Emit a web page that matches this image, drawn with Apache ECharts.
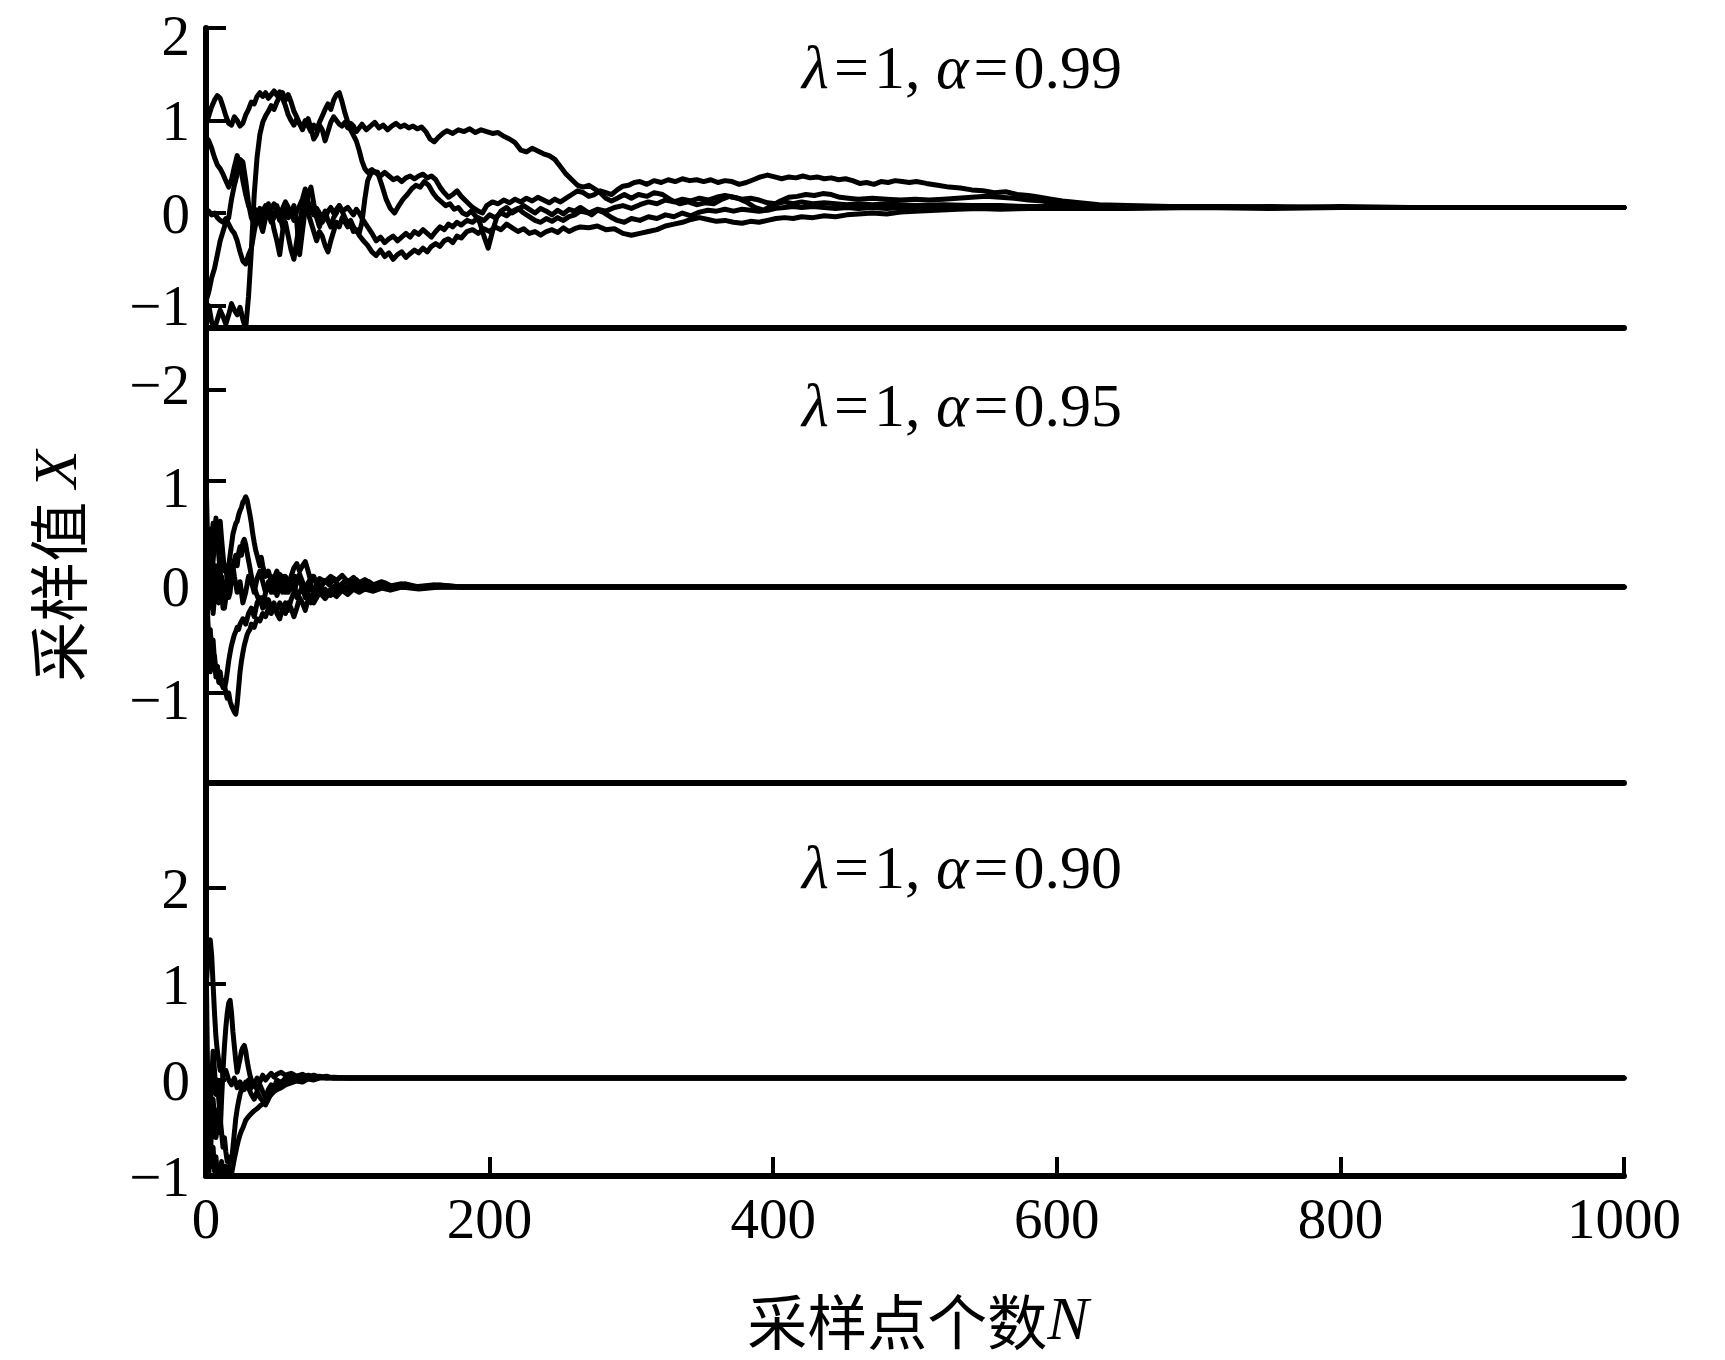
<!DOCTYPE html>
<html>
<head>
<meta charset="utf-8">
<title>采样值收敛曲线</title>
<script src="https://cdn.jsdelivr.net/npm/echarts@6/dist/echarts.min.js"></script>
<style>
  html, body { margin: 0; padding: 0; background: #fff; }
  #chart { width: 1725px; height: 1360px; }
</style>
</head>
<body>
<div id="chart"></div>
<script>
// 横轴刻度
const xTicks = [0, 200, 400, 600, 800, 1000];

// 纵轴刻度和标注（三个子图各一套）
const yTicks99 = [-1, 0, 1, 2];
const yLabels99 = ['−1', '0', '1', '2'];
const yTicks95 = [-1.85, -1, 0, 1, 1.86];
const yLabels95 = ['−2', '−1', '0', '1', '−2'];
const yTicks90 = [-1, 0, 1, 2];
const yLabels90 = ['−1', '0', '1', '2'];

// 纵轴范围
const yRange99 = [-1.243, 2];
const yRange95 = [-1.849, 2.443];
const yRange90 = [-1, 3.094];

const alphas = ['0.99', '0.95', '0.90'];

// λ=1, α=0.99 的五条采样链 [N, X]
const chain99a = [[0,0.95],[2,1.05],[4,1.15],[6,1.22],[8,1.27],[10,1.24],[12,1.15],[14,1.05],[16,0.97],[18,0.95],[20,1.04],[22,1.0],[24,0.94],[26,0.97],[28,1.06],[30,1.12],[32,1.2],[34,1.18],[36,1.26],[38,1.3],[40,1.26],[42,1.3],[44,1.24],[46,1.28],[48,1.32],[50,1.27],[52,1.31],[54,1.24],[56,1.16],[58,1.06],[60,1.0],[62,0.95],[64,1.02],[66,0.97],[68,0.9],[70,0.98],[72,1.02],[74,0.92],[76,0.8],[78,0.85],[80,0.95],[82,0.9],[84,0.78],[86,0.88],[88,0.98],[90,1.04],[92,1.0],[94,0.96],[96,0.94],[98,0.98],[100,0.92],[102,0.97],[104,0.94],[106,0.88],[108,0.92],[110,0.96],[113,0.9],[116,0.94],[119,0.98],[122,0.92],[125,0.95],[128,0.9],[131,0.94],[134,0.97],[137,0.93],[140,0.95],[143,0.92],[146,0.94],[149,0.91],[152,0.93],[155,0.88],[158,0.8],[161,0.77],[164,0.82],[167,0.86],[170,0.89],[174,0.86],[178,0.9],[182,0.88],[186,0.91],[190,0.87],[194,0.9],[198,0.88],[202,0.86],[206,0.87],[210,0.83],[214,0.8],[218,0.76],[222,0.68],[226,0.66],[230,0.7],[234,0.67],[238,0.64],[242,0.62],[246,0.58],[250,0.5],[254,0.42],[258,0.36],[262,0.3],[266,0.28],[270,0.3],[274,0.26],[278,0.22],[282,0.16],[286,0.13],[290,0.16],[295,0.2],[300,0.16],[305,0.2],[311,0.18],[316,0.22],[322,0.2],[328,0.14],[334,0.1],[340,0.12],[346,0.09],[352,0.11],[358,0.1],[364,0.15],[369,0.18],[375,0.16],[381,0.12],[387,0.06],[393,0.03],[399,0.08],[405,0.13],[411,0.17],[417,0.18],[423,0.2],[429,0.19],[435,0.21],[441,0.2],[447,0.17],[453,0.16],[460,0.15],[470,0.16],[480,0.15],[490,0.14],[500,0.15],[510,0.14],[520,0.15],[530,0.16],[540,0.17],[550,0.18],[560,0.17],[570,0.16],[580,0.14],[590,0.13],[600,0.1],[620,0.08],[650,0.07],[700,0.07],[750,0.06],[800,0.06],[850,0.06],[900,0.06],[950,0.06],[1000,0.06]];
const chain99b = [[0,-1.1],[2,-1.0],[4,-1.18],[6,-1.25],[8,-1.15],[10,-1.05],[12,-1.12],[14,-1.2],[16,-1.1],[18,-0.98],[20,-1.05],[22,-1.1],[24,-1.02],[26,-1.15],[28,-1.25],[30,-0.9],[32,-0.4],[34,0.2],[36,0.6],[38,0.85],[40,0.98],[42,1.05],[44,1.1],[46,1.16],[48,1.12],[50,1.2],[52,1.26],[54,1.3],[56,1.22],[58,1.28],[60,1.2],[62,1.1],[64,1.04],[66,0.96],[68,0.92],[70,1.0],[72,0.94],[74,0.88],[76,0.95],[78,0.9],[80,0.98],[82,1.05],[84,1.12],[86,1.18],[88,1.12],[90,1.22],[92,1.28],[94,1.3],[96,1.2],[98,1.08],[100,0.98],[102,0.9],[104,0.84],[106,0.78],[108,0.68],[110,0.56],[112,0.48],[114,0.44],[117,0.47],[120,0.43],[123,0.4],[126,0.44],[129,0.4],[132,0.36],[135,0.38],[138,0.34],[141,0.38],[144,0.4],[147,0.37],[150,0.4],[153,0.42],[156,0.38],[159,0.4],[162,0.36],[165,0.28],[168,0.22],[171,0.17],[174,0.2],[177,0.24],[180,0.18],[184,0.12],[188,0.06],[192,0.02],[195,0.0],[198,0.08],[202,0.12],[206,0.1],[210,0.14],[214,0.11],[218,0.15],[222,0.12],[226,0.16],[230,0.13],[234,0.17],[238,0.14],[242,0.11],[246,0.15],[250,0.12],[254,0.16],[258,0.2],[262,0.24],[266,0.22],[270,0.18],[274,0.2],[278,0.24],[282,0.22],[286,0.2],[290,0.25],[294,0.29],[298,0.3],[302,0.33],[306,0.34],[311,0.31],[316,0.35],[321,0.33],[326,0.36],[331,0.34],[336,0.37],[341,0.35],[346,0.36],[351,0.34],[356,0.36],[361,0.33],[366,0.35],[371,0.34],[376,0.31],[381,0.33],[386,0.36],[391,0.39],[396,0.41],[401,0.39],[406,0.37],[411,0.39],[416,0.38],[421,0.4],[426,0.38],[431,0.39],[436,0.37],[441,0.38],[446,0.36],[451,0.37],[456,0.35],[461,0.32],[466,0.33],[471,0.31],[476,0.34],[481,0.33],[486,0.35],[491,0.34],[496,0.33],[501,0.34],[508,0.32],[516,0.3],[524,0.28],[532,0.27],[540,0.25],[548,0.24],[556,0.22],[564,0.23],[572,0.2],[580,0.19],[588,0.17],[596,0.15],[604,0.13],[616,0.11],[630,0.09],[650,0.08],[680,0.07],[720,0.07],[760,0.06],[800,0.07],[850,0.06],[900,0.06],[950,0.06],[1000,0.06]];
const chain99c = [[0,-0.95],[2,-0.85],[4,-0.7],[6,-0.6],[8,-0.45],[10,-0.3],[12,-0.2],[14,-0.1],[16,-0.05],[18,0.15],[20,0.3],[22,0.42],[24,0.58],[26,0.55],[28,0.35],[30,0.1],[32,-0.05],[34,-0.12],[36,0.0],[38,0.05],[40,-0.1],[42,-0.05],[44,0.1],[46,-0.02],[48,-0.18],[50,-0.3],[52,-0.45],[54,-0.2],[56,0.05],[58,-0.05],[60,0.0],[62,0.08],[64,-0.1],[66,-0.45],[68,-0.2],[70,0.05],[72,0.2],[74,0.28],[76,0.1],[78,-0.05],[80,-0.15],[82,-0.05],[84,0.02],[86,-0.08],[88,-0.15],[90,-0.05],[92,0.0],[94,0.08],[96,0.02],[98,-0.05],[100,-0.12],[102,-0.08],[104,-0.15],[106,-0.2],[108,-0.22],[110,-0.1],[112,0.15],[114,0.35],[116,0.42],[118,0.45],[121,0.44],[124,0.3],[127,0.15],[130,0.05],[133,0.0],[136,0.08],[139,0.15],[142,0.2],[145,0.26],[148,0.3],[151,0.28],[154,0.34],[157,0.3],[160,0.22],[163,0.16],[166,0.12],[169,0.08],[172,0.1],[175,0.04],[178,0.06],[181,0.0],[184,-0.02],[187,0.02],[190,-0.03],[193,-0.1],[196,-0.25],[199,-0.38],[202,-0.2],[205,-0.05],[208,0.02],[212,0.06],[216,0.0],[220,0.04],[224,0.08],[228,0.04],[232,0.0],[236,0.05],[240,0.02],[244,-0.02],[248,0.03],[252,-0.01],[256,0.04],[260,0.02],[264,0.06],[268,0.02],[272,-0.02],[276,0.03],[280,0.01],[285,-0.04],[290,-0.08],[295,-0.1],[300,-0.06],[306,-0.08],[312,-0.04],[318,-0.06],[324,-0.02],[330,-0.04],[336,0.0],[342,-0.03],[348,0.01],[354,0.03],[360,0.02],[366,0.04],[372,0.02],[378,0.04],[384,0.03],[390,0.02],[396,0.03],[402,0.05],[408,0.06],[414,0.07],[420,0.06],[428,0.07],[436,0.06],[444,0.05],[452,0.06],[460,0.05],[470,0.06],[480,0.05],[490,0.06],[500,0.05],[520,0.06],[540,0.05],[560,0.06],[580,0.05],[600,0.06],[650,0.06],[700,0.06],[750,0.06],[800,0.06],[850,0.06],[900,0.06],[950,0.06],[1000,0.06]];
const chain99d = [[0,0.0],[2,0.02],[4,-0.02],[6,0.0],[8,-0.05],[10,-0.08],[12,-0.1],[14,-0.06],[16,-0.12],[18,-0.18],[20,-0.22],[22,-0.3],[24,-0.42],[26,-0.52],[28,-0.55],[30,-0.45],[32,-0.38],[34,-0.2],[36,-0.05],[38,-0.1],[40,-0.2],[42,-0.05],[44,0.0],[46,-0.1],[48,-0.05],[50,0.08],[52,-0.02],[54,-0.15],[56,-0.1],[58,-0.25],[60,-0.4],[62,-0.5],[64,-0.3],[66,-0.1],[68,0.05],[70,0.12],[72,0.0],[74,-0.1],[76,-0.2],[78,-0.3],[80,-0.2],[82,-0.25],[84,-0.35],[86,-0.42],[88,-0.3],[90,-0.2],[92,-0.1],[94,-0.15],[96,-0.05],[98,-0.1],[100,-0.15],[102,-0.12],[104,-0.2],[106,-0.18],[108,-0.24],[111,-0.3],[114,-0.35],[117,-0.42],[120,-0.46],[123,-0.4],[126,-0.47],[129,-0.43],[132,-0.5],[135,-0.45],[138,-0.42],[141,-0.48],[144,-0.44],[147,-0.4],[150,-0.43],[153,-0.38],[156,-0.42],[159,-0.36],[162,-0.33],[165,-0.36],[168,-0.3],[171,-0.28],[174,-0.32],[177,-0.25],[180,-0.27],[184,-0.2],[188,-0.18],[192,-0.22],[196,-0.17],[200,-0.2],[204,-0.15],[208,-0.18],[212,-0.12],[216,-0.16],[220,-0.2],[224,-0.17],[228,-0.22],[232,-0.2],[236,-0.24],[240,-0.2],[244,-0.18],[248,-0.21],[252,-0.16],[256,-0.2],[260,-0.17],[264,-0.15],[270,-0.16],[276,-0.14],[282,-0.18],[288,-0.17],[294,-0.22],[300,-0.24],[306,-0.22],[312,-0.2],[318,-0.18],[324,-0.14],[330,-0.12],[336,-0.1],[342,-0.07],[348,-0.05],[354,-0.07],[360,-0.09],[366,-0.08],[372,-0.1],[378,-0.11],[384,-0.09],[390,-0.1],[396,-0.08],[402,-0.06],[408,-0.05],[414,-0.06],[420,-0.04],[428,-0.05],[436,-0.03],[444,-0.04],[452,-0.02],[460,-0.01],[470,0.0],[480,-0.01],[490,0.01],[500,0.02],[515,0.03],[530,0.04],[545,0.05],[560,0.04],[580,0.05],[600,0.05],[650,0.05],[700,0.06],[750,0.05],[800,0.06],[850,0.06],[900,0.06],[950,0.06],[1000,0.06]];
const chain99e = [[0,0.82],[2,0.78],[4,0.7],[6,0.6],[8,0.52],[10,0.48],[12,0.42],[14,0.35],[16,0.28],[18,0.36],[20,0.5],[22,0.62],[24,0.52],[26,0.35],[28,0.2],[30,0.08],[32,0.02],[34,0.05],[36,0.0],[38,-0.08],[40,0.02],[42,0.08],[44,-0.05],[46,0.05],[48,0.1],[50,0.02],[52,-0.08],[54,0.05],[56,0.12],[58,0.06],[60,0.0],[62,-0.08],[64,0.02],[66,0.08],[68,0.15],[70,0.26],[72,0.12],[74,0.05],[76,-0.02],[78,0.05],[80,0.0],[82,-0.1],[84,-0.05],[86,0.02],[88,0.06],[90,0.0],[92,0.04],[94,0.08],[96,0.02],[98,0.04],[100,0.06],[102,0.02],[104,-0.02],[106,0.04],[108,0.0],[111,-0.08],[114,-0.15],[117,-0.22],[120,-0.3],[123,-0.26],[126,-0.32],[129,-0.28],[132,-0.25],[135,-0.3],[138,-0.26],[141,-0.22],[144,-0.26],[147,-0.2],[150,-0.23],[153,-0.18],[156,-0.22],[159,-0.26],[162,-0.2],[165,-0.15],[168,-0.18],[171,-0.12],[174,-0.15],[177,-0.1],[180,-0.13],[184,-0.08],[188,-0.1],[192,-0.05],[196,-0.08],[200,-0.02],[204,-0.05],[208,0.0],[212,-0.03],[216,0.02],[220,0.05],[224,0.0],[228,-0.04],[232,-0.08],[236,-0.1],[240,-0.06],[244,-0.09],[248,-0.05],[252,-0.08],[256,-0.04],[260,-0.02],[264,0.02],[270,0.0],[276,0.04],[282,0.02],[288,0.06],[294,0.08],[300,0.05],[306,0.09],[312,0.12],[318,0.1],[324,0.14],[330,0.12],[336,0.15],[342,0.13],[348,0.16],[354,0.14],[360,0.17],[366,0.19],[372,0.17],[378,0.15],[384,0.16],[390,0.14],[396,0.11],[402,0.1],[408,0.12],[414,0.1],[420,0.12],[428,0.1],[436,0.11],[444,0.1],[452,0.09],[460,0.1],[470,0.09],[480,0.1],[490,0.09],[500,0.08],[520,0.09],[540,0.08],[560,0.08],[580,0.07],[600,0.07],[650,0.07],[700,0.06],[750,0.07],[800,0.06],[850,0.06],[900,0.06],[950,0.06],[1000,0.06]];

// λ=1, α=0.95
const chain95a = [[0,1.07],[1,0.5],[2,0.1],[3,0.35],[4,0.05],[5,0.25],[6,0.4],[7,0.55],[8,0.6],[9,0.5],[10,0.62],[11,0.45],[12,0.3],[13,0.15],[14,0.2],[15,0.05],[16,-0.1],[17,-0.05],[18,0.1],[19,0.2],[20,0.1],[22,-0.05],[24,0.05],[26,-0.15],[28,-0.05],[30,0.1],[32,0.05],[34,-0.05],[36,0.08],[38,0.15],[40,0.05],[42,-0.05],[44,0.0],[46,0.1],[48,0.05],[50,-0.08],[52,0.0],[54,0.1],[56,0.05],[58,-0.05],[60,0.02],[63,0.1],[66,0.05],[69,-0.03],[72,0.04],[75,0.1],[78,0.05],[81,0.0],[84,0.06],[87,0.02],[90,0.08],[94,0.0],[98,0.06],[102,0.01],[106,0.07],[110,0.01],[115,0.05],[120,0.0],[126,0.04],[132,0.0],[140,0.03],[150,0.0],[165,0.02],[180,0.0],[200,0.0],[250,0.0],[300,0.0],[400,0.0],[500,0.0],[600,0.0],[700,0.0],[800,0.0],[900,0.0],[1000,0.0]];
const chain95b = [[0,-0.3],[1,0.1],[2,-0.2],[3,0.3],[4,0.0],[5,-0.25],[6,-0.1],[7,0.2],[8,0.05],[9,-0.15],[10,-0.05],[11,0.1],[12,0.0],[13,-0.2],[14,-0.1],[15,0.05],[16,0.2],[17,0.3],[18,0.4],[19,0.5],[20,0.55],[21,0.6],[22,0.62],[23,0.68],[24,0.72],[25,0.75],[26,0.8],[27,0.82],[28,0.85],[29,0.82],[30,0.75],[31,0.68],[32,0.6],[33,0.5],[34,0.42],[35,0.35],[36,0.3],[37,0.25],[38,0.2],[39,0.28],[40,0.2],[42,0.1],[44,0.15],[46,0.05],[48,-0.05],[50,0.05],[52,0.12],[54,0.05],[56,-0.05],[58,0.02],[60,0.1],[62,0.18],[64,0.22],[66,0.15],[68,0.2],[70,0.24],[72,0.15],[74,0.05],[76,0.1],[78,0.02],[80,0.08],[84,0.05],[88,0.1],[92,0.06],[96,0.11],[100,0.05],[104,0.09],[108,0.04],[112,0.07],[118,0.02],[124,0.05],[130,0.01],[138,0.03],[146,0.0],[160,0.02],[180,0.0],[200,0.0],[300,0.0],[400,0.0],[500,0.0],[600,0.0],[700,0.0],[800,0.0],[900,0.0],[1000,0.0]];
const chain95c = [[0,0.2],[1,-0.3],[2,-0.55],[3,-0.4],[4,-0.6],[5,-0.7],[6,-0.65],[7,-0.8],[8,-0.75],[9,-0.85],[10,-0.8],[11,-0.9],[12,-0.95],[13,-0.92],[14,-1.0],[15,-1.05],[16,-1.0],[17,-1.08],[18,-1.12],[19,-1.15],[20,-1.18],[21,-1.2],[22,-1.1],[23,-0.95],[24,-0.8],[25,-0.7],[26,-0.62],[27,-0.55],[28,-0.5],[29,-0.45],[30,-0.42],[31,-0.4],[32,-0.35],[34,-0.38],[36,-0.3],[38,-0.32],[40,-0.25],[42,-0.28],[44,-0.2],[46,-0.25],[48,-0.18],[50,-0.22],[52,-0.15],[54,-0.2],[56,-0.25],[58,-0.15],[60,-0.2],[62,-0.28],[64,-0.2],[66,-0.1],[68,-0.15],[70,-0.22],[72,-0.12],[74,-0.08],[76,-0.15],[78,-0.1],[80,-0.05],[84,-0.11],[88,-0.04],[92,-0.09],[96,-0.03],[100,-0.07],[104,-0.02],[108,-0.05],[112,-0.02],[118,-0.04],[124,-0.01],[130,-0.03],[138,0.0],[150,-0.02],[165,0.0],[200,0.0],[300,0.0],[400,0.0],[500,0.0],[600,0.0],[700,0.0],[800,0.0],[900,0.0],[1000,0.0]];
const chain95d = [[0,-0.7],[1,-0.2],[2,-0.6],[3,-0.8],[4,-0.65],[5,-0.5],[6,-0.7],[7,-0.85],[8,-0.75],[9,-0.9],[10,-0.85],[11,-0.92],[12,-0.88],[13,-0.95],[14,-0.9],[15,-0.8],[16,-0.7],[17,-0.62],[18,-0.55],[19,-0.5],[20,-0.45],[21,-0.42],[22,-0.38],[23,-0.4],[24,-0.35],[26,-0.3],[28,-0.35],[30,-0.25],[32,-0.2],[34,-0.28],[36,-0.15],[38,-0.1],[40,-0.2],[42,-0.05],[44,0.05],[46,-0.05],[48,0.08],[50,0.15],[52,0.05],[54,-0.05],[56,0.1],[58,0.05],[60,-0.02],[62,0.05],[64,-0.1],[66,-0.05],[68,0.0],[70,-0.1],[72,-0.05],[74,0.02],[76,-0.05],[78,-0.1],[80,-0.04],[84,-0.08],[88,-0.02],[92,0.02],[96,-0.03],[100,0.0],[104,0.03],[108,0.0],[114,0.02],[120,-0.01],[128,0.01],[136,0.0],[150,0.0],[200,0.0],[300,0.0],[400,0.0],[500,0.0],[600,0.0],[700,0.0],[800,0.0],[900,0.0],[1000,0.0]];
const chain95e = [[0,0.5],[1,0.3],[2,0.55],[3,0.2],[4,0.4],[5,0.6],[6,0.45],[7,0.65],[8,0.5],[9,0.3],[10,0.15],[11,0.0],[12,-0.2],[13,-0.1],[14,0.05],[15,-0.1],[16,0.0],[17,0.15],[18,0.05],[19,0.2],[20,0.25],[21,0.3],[22,0.2],[23,0.32],[24,0.38],[25,0.3],[26,0.42],[27,0.45],[28,0.4],[29,0.32],[30,0.25],[31,0.18],[32,0.1],[33,0.05],[34,0.0],[36,-0.08],[38,-0.15],[40,-0.1],[42,-0.18],[44,-0.12],[46,-0.2],[48,-0.15],[50,-0.25],[52,-0.3],[54,-0.2],[56,-0.15],[58,-0.22],[60,-0.12],[62,-0.05],[64,0.05],[66,0.12],[68,0.05],[70,-0.02],[72,-0.1],[74,-0.15],[76,-0.05],[78,0.02],[80,-0.06],[84,-0.02],[88,-0.08],[92,-0.03],[96,0.03],[100,-0.04],[104,0.02],[108,-0.03],[114,0.01],[120,-0.02],[128,0.01],[136,0.0],[150,0.0],[200,0.0],[300,0.0],[400,0.0],[500,0.0],[600,0.0],[700,0.0],[800,0.0],[900,0.0],[1000,0.0]];

// λ=1, α=0.90
const chain90a = [[0,0.9],[1,1.2],[2,1.4],[3,1.46],[4,1.3],[5,1.0],[6,0.7],[7,0.45],[8,0.3],[9,0.2],[10,0.1],[11,0.15],[12,0.05],[14,0.1],[16,0.0],[18,-0.05],[20,0.02],[22,-0.08],[24,-0.02],[26,-0.1],[28,-0.05],[30,0.0],[32,-0.08],[34,-0.03],[36,-0.1],[38,-0.05],[40,-0.12],[42,-0.18],[44,-0.1],[46,-0.05],[48,-0.08],[50,0.0],[53,-0.03],[56,0.02],[60,0.0],[64,0.04],[68,0.02],[72,0.05],[76,0.03],[80,0.04],[85,0.02],[90,0.03],[100,0.02],[120,0.02],[200,0.02],[400,0.02],[600,0.02],[800,0.02],[1000,0.02]];
const chain90b = [[0,1.4],[1,0.2],[2,-0.98],[3,-0.6],[4,-0.9],[5,-0.7],[6,-0.95],[7,-0.8],[8,-0.98],[9,-0.9],[10,-0.98],[11,-0.85],[12,-0.95],[13,-0.98],[14,-0.9],[15,-0.95],[16,-0.98],[17,-0.92],[18,-0.98],[19,-0.9],[20,-0.82],[21,-0.75],[22,-0.68],[23,-0.62],[24,-0.57],[25,-0.53],[26,-0.5],[27,-0.46],[28,-0.42],[30,-0.38],[32,-0.35],[34,-0.32],[36,-0.3],[38,-0.27],[40,-0.25],[42,-0.22],[44,-0.18],[46,-0.15],[48,-0.12],[50,-0.1],[53,-0.08],[56,-0.05],[60,-0.03],[64,-0.01],[68,-0.02],[72,0.01],[76,0.0],[80,0.02],[90,0.02],[100,0.02],[200,0.02],[400,0.02],[600,0.02],[800,0.02],[1000,0.02]];
const chain90c = [[0,-0.2],[1,-0.6],[2,-0.3],[3,-0.8],[4,-0.5],[5,-0.2],[6,-0.4],[7,-0.6],[8,-0.5],[9,-0.3],[10,-0.55],[11,-0.2],[12,0.1],[13,0.35],[14,0.55],[15,0.7],[16,0.8],[17,0.83],[18,0.7],[19,0.5],[20,0.35],[21,0.2],[22,0.08],[23,0.15],[24,0.22],[25,0.3],[26,0.34],[27,0.36],[28,0.3],[29,0.2],[30,0.12],[31,0.05],[32,0.0],[34,-0.05],[36,0.02],[38,-0.02],[40,0.05],[42,0.0],[44,0.04],[46,0.07],[48,0.03],[50,0.06],[53,0.08],[56,0.05],[60,0.07],[64,0.04],[68,0.06],[72,0.03],[76,0.05],[80,0.03],[85,0.04],[90,0.02],[100,0.02],[200,0.02],[400,0.02],[600,0.02],[800,0.02],[1000,0.02]];
const chain90d = [[0,0.3],[1,-0.4],[2,0.1],[3,-0.3],[4,0.0],[5,0.3],[6,0.1],[7,-0.15],[8,0.0],[9,-0.2],[10,-0.4],[11,-0.55],[12,-0.7],[13,-0.6],[14,-0.75],[15,-0.85],[16,-0.8],[17,-0.9],[18,-0.85],[19,-0.7],[20,-0.55],[21,-0.4],[22,-0.3],[23,-0.22],[24,-0.15],[25,-0.1],[26,-0.05],[27,-0.1],[28,-0.02],[30,-0.08],[32,-0.15],[34,-0.2],[36,-0.12],[38,-0.18],[40,-0.22],[42,-0.26],[44,-0.2],[46,-0.14],[48,-0.1],[50,-0.06],[53,-0.02],[56,0.0],[60,0.03],[64,0.01],[68,0.03],[72,0.02],[80,0.03],[90,0.02],[100,0.02],[200,0.02],[400,0.02],[600,0.02],[800,0.02],[1000,0.02]];

const chartDom = document.getElementById('chart');
const myChart = echarts.init(chartDom, null, { renderer: 'svg' });

const serif = 'Liberation Serif, Times New Roman, serif';
const cjk = 'Noto Sans CJK SC, sans-serif';

const labelFont = { fontFamily: serif, fontSize: 57, color: '#000', lineHeight: 44 };
// 个别标注相对刻度上下微调
const labelRich = {
  low: Object.assign({}, labelFont, { lineHeight: 36, padding: [14, 0, 0, 0] }),
  high: Object.assign({}, labelFont, { lineHeight: 36, padding: [0, 0, 10, 0] })
};

// 自定义刻度值对应的标注，shift 给出需要上下偏移的刻度
const pickLabel = (ticks, labels, shift) => v => {
  let k = 0;
  ticks.forEach((t, i) => {
    if (Math.abs(t - v) < Math.abs(ticks[k] - v)) k = i;
  });
  const s = shift[k];
  return s ? '{' + s + '|' + labels[k] + '}' : labels[k];
};

const makeXAxis = (gridIndex, showTicks) => ({
  type: 'value',
  gridIndex,
  min: 0,
  max: 1000,
  axisLine: { show: true, onZero: false, lineStyle: { color: '#000', width: 6 } },
  axisTick: {
    show: showTicks,
    inside: true,
    length: 19,
    customValues: xTicks,
    lineStyle: { color: '#000', width: 4 }
  },
  axisLabel: {
    show: showTicks,
    customValues: xTicks,
    margin: 14,
    color: '#000',
    fontFamily: serif,
    fontSize: 57,
    formatter: v => String(v)
  },
  splitLine: { show: false }
});

const makeYAxis = (gridIndex, range, ticks, labels, shift) => ({
  type: 'value',
  gridIndex,
  min: range[0],
  max: range[1],
  axisLine: { show: true, onZero: false, lineStyle: { color: '#000', width: 6 } },
  axisTick: {
    show: true,
    inside: true,
    length: 20,
    customValues: ticks,
    lineStyle: { color: '#000', width: 4 }
  },
  axisLabel: Object.assign({
    show: true,
    customValues: ticks,
    margin: 16,
    formatter: pickLabel(ticks, labels, shift),
    rich: labelRich
  }, labelFont),
  splitLine: { show: false }
});

const lineSeries = (data, idx) => ({
  type: 'line',
  xAxisIndex: idx,
  yAxisIndex: idx,
  data,
  symbol: 'none',
  showSymbol: false,
  silent: true,
  lineStyle: { color: '#000', width: 5, join: 'round', cap: 'round' }
});

const italic = { fontStyle: 'italic', fontFamily: serif, fontSize: 62, fill: '#000' };
const upright = { fontFamily: serif, fontSize: 62, fill: '#000' };
const equal = { fontFamily: serif, fontSize: 62, fill: '#000', padding: [0, 5, 0, 5] };

const option = {
  backgroundColor: '#fff',
  animation: false,
  grid: [
    { left: 206, right: 101, top: 28, height: 300, outerBoundsMode: 'none' },
    { left: 206, right: 101, top: 328, height: 455, outerBoundsMode: 'none' },
    { left: 206, right: 101, top: 783, height: 393, outerBoundsMode: 'none' }
  ],
  xAxis: [makeXAxis(0, false), makeXAxis(1, false), makeXAxis(2, true)],
  yAxis: [
    makeYAxis(0, yRange99, yTicks99, yLabels99, [null, null, null, 'low']),
    makeYAxis(1, yRange95, yTicks95, yLabels95, ['high', 'low', null, 'low', 'high']),
    makeYAxis(2, yRange90, yTicks90, yLabels90, [null, null, null, null])
  ],
  series: [
    ...[chain99a, chain99b, chain99c, chain99d, chain99e].map(d => lineSeries(d, 0)),
    ...[chain95a, chain95b, chain95c, chain95d, chain95e].map(d => lineSeries(d, 1)),
    ...[chain90a, chain90b, chain90c, chain90d].map(d => lineSeries(d, 2))
  ],
  graphic: [
    // 参数标注
    ...[67, 405, 867].map((y, i) => ({
      type: 'text',
      x: 962,
      y,
      style: {
        text: '{i|λ}{e|=}{u|1, }{i|α}{e|=}{u|' + alphas[i] + '}',
        rich: { i: italic, u: upright, e: equal },
        fontFamily: serif,
        fontSize: 62,
        fill: '#000',
        align: 'center',
        verticalAlign: 'middle'
      }
    })),
    // 纵轴名称
    {
      type: 'text',
      x: 55,
      y: 566,
      rotation: Math.PI / 2,
      style: {
        text: '{c|采样值 }{i|X}',
        rich: {
          c: { fontFamily: cjk, fontSize: 60, lineHeight: 62, fill: '#000' },
          i: Object.assign({}, italic, { lineHeight: 62 })
        },
        fill: '#000',
        align: 'center',
        verticalAlign: 'middle'
      }
    },
    // 横轴名称
    {
      type: 'text',
      x: 918,
      y: 1318,
      style: {
        text: '{c|采样点个数}{i|N}',
        rich: {
          c: { fontFamily: cjk, fontSize: 60, lineHeight: 60, fill: '#000' },
          i: Object.assign({}, italic, { lineHeight: 60 })
        },
        fill: '#000',
        align: 'center',
        verticalAlign: 'middle'
      }
    }
  ]
};

option && myChart.setOption(option);

window.addEventListener('resize', () => {
  myChart.resize();
});
</script>
</body>
</html>
